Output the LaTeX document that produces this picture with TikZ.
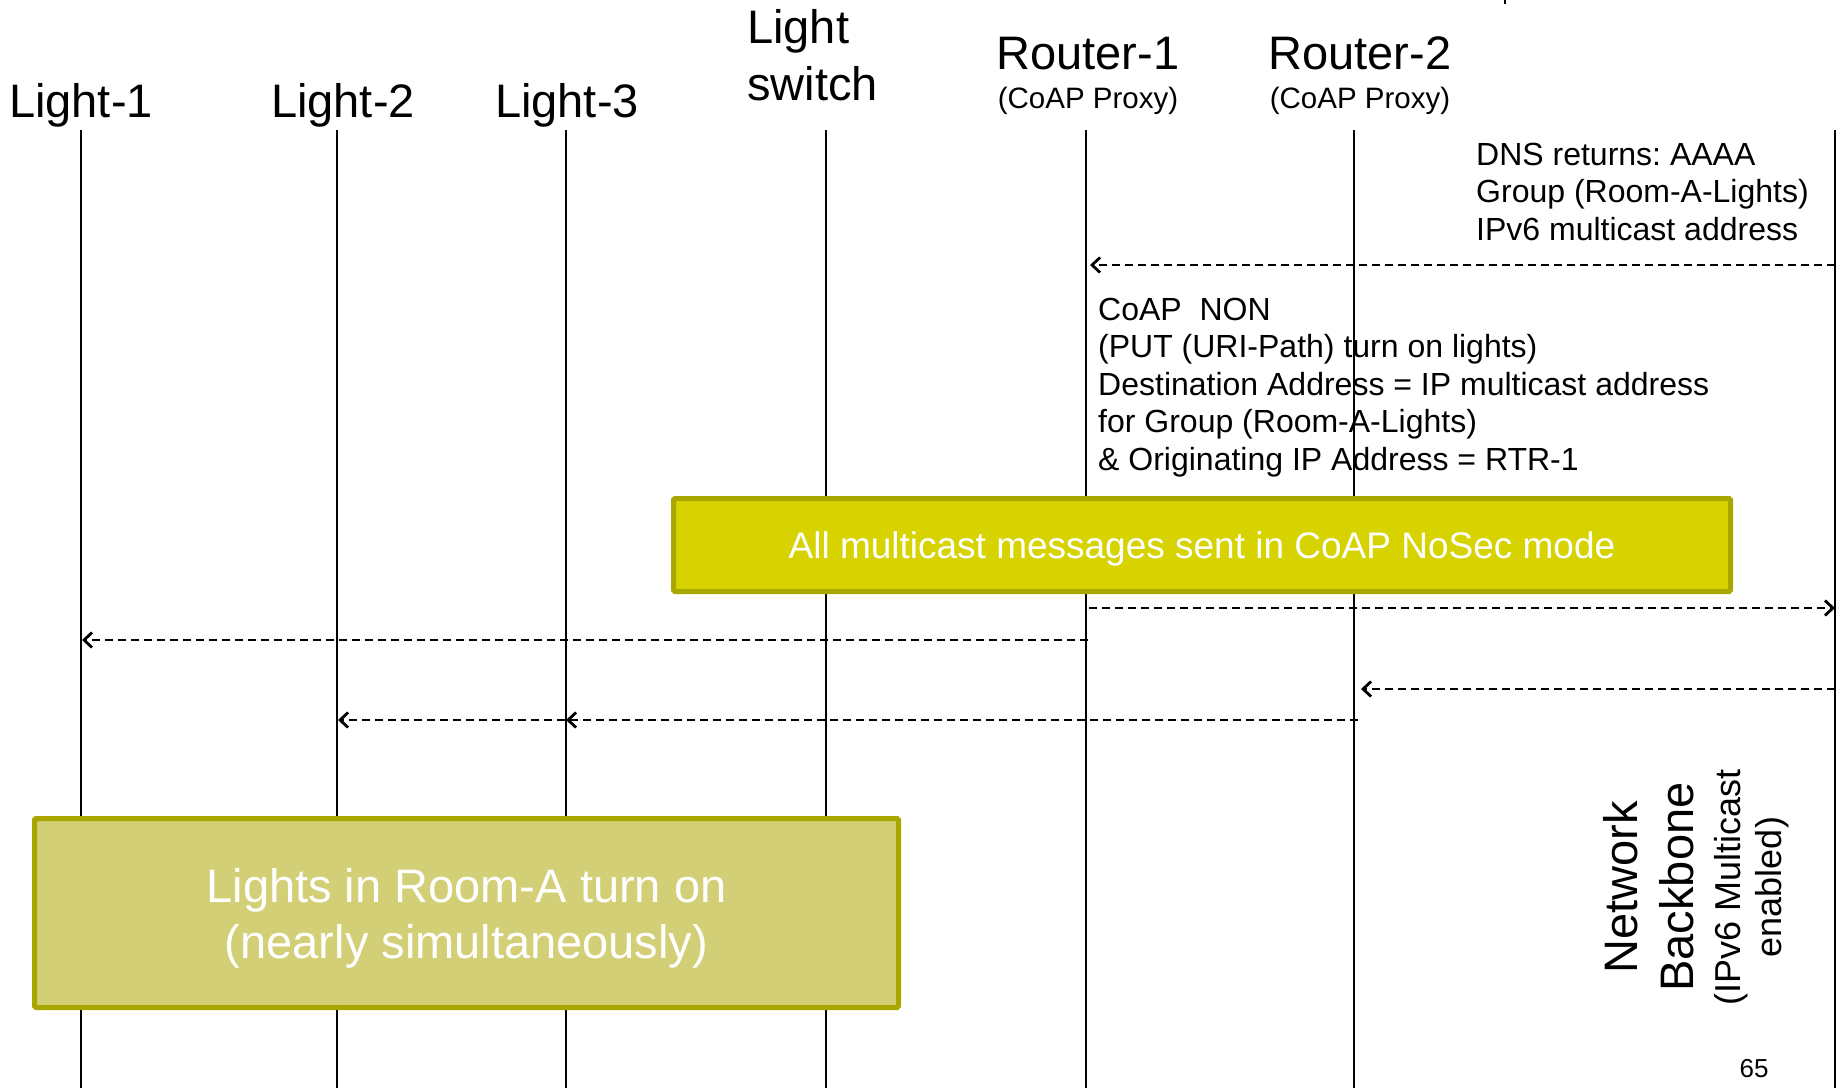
\documentclass[tikz,border=0pt]{standalone}
\usepackage{fontspec}
\setmainfont{Liberation Sans}
\usepackage{tikz}
\usetikzlibrary{positioning, arrows.meta}
\frenchspacing

\definecolor{boxyellow}{RGB}{215,211,0}
\definecolor{boxolive}{RGB}{211,207,118}
\definecolor{boxedge}{RGB}{170,166,0}

\begin{document}
\begin{tikzpicture}[x=1pt, y=-1pt,
		actor/.style={inner sep=0pt, font=\fontsize{47}{57}\selectfont},
		role/.style={inner sep=0pt, font=\fontsize{29.5}{35}\selectfont},
		note/.style={inner sep=0pt, align=left, anchor=base west, font=\fontsize{32}{37.5}\selectfont},
		life/.style={line width=2pt},
		msg/.style={line width=2.8pt, dash pattern=on 8pt off 5pt, -{Straight Barb[length=8pt,width=15pt]}},
		banner/.style={draw=boxedge, line width=5pt, text=white, inner sep=0pt, rounded corners=1.5pt}]
			\useasboundingbox (0,0) rectangle (1837,1088);
			
			% lifelines
			\foreach \who/\x in {l1/81, l2/337, l3/566, sw/826, r1/1086, r2/1354, bb/1835} {
				\coordinate (\who-top) at (\x,130);
				\coordinate (\who-bot) at (\x,1088);
				\draw[life] (\who-top) -- (\who-bot);
			}
			\draw[life] (1505,0) -- (1505,4);
			
			% headers
			\node[actor, anchor=base] (light1) at (81,117) {Light-1};
			\node[actor, anchor=base] (light2) at (343,117) {Light-2};
			\node[actor, anchor=base] (light3) at (567,117) {Light-3};
			\node[actor, anchor=base west, align=left] (switch) at (747,100) {Light\\switch};
			\node[actor, anchor=base] (router1) at (1088,69) {Router-1};
			\node[role, below=17pt of router1] (proxy1) {(CoAP Proxy)};
			\node[actor, anchor=base] (router2) at (1360,69) {Router-2};
			\node[role, below=17pt of router2] (proxy2) {(CoAP Proxy)};
			
			% notes
			\node[note] (dnsnote) at (1476,240) {DNS returns: AAAA\\Group (Room-A-Lights)\\IPv6 multicast address};
			\node[note] (coapnote) at (1098,470) {CoAP~~NON\\(PUT (URI-Path) turn on lights)\\Destination Address = IP multicast address\\for Group (Room-A-Lights)\\\& Originating IP Address = RTR-1};
			
			% message ends
			\coordinate (dns-bb) at (1835,265);
			\coordinate (dns-r1) at (1090,265);
			\coordinate (put-r1) at (1089,608);
			\coordinate (put-bb) at (1835,608);
			\coordinate (fwd-r1) at (1088,640);
			\coordinate (fwd-l1) at (82,640);
			\coordinate (mc-bb) at (1835,689);
			\coordinate (mc-r2) at (1361,689);
			\coordinate (out-r2) at (1358,720);
			\coordinate (out-l3) at (566,720);
			\coordinate (out-l2) at (338,720);
			
			\draw[msg] (dns-bb) -- (dns-r1);
			\draw[msg] (put-r1) -- (put-bb);
			\draw[msg] (fwd-r1) -- (fwd-l1);
			\draw[msg] (mc-bb) -- (mc-r2);
			\draw[msg] (out-r2) -- (out-l2);
			\draw[msg] (out-r2) -- (out-l3);
			
			% boxes
			\node[banner, fill=boxyellow, minimum width=1057pt, minimum height=93pt, text height=30pt, text depth=4pt, font=\fontsize{37}{44}\selectfont] (nosec) at (1202,545) {All multicast messages sent in CoAP NoSec mode};
			\node[banner, fill=boxolive, align=center, minimum width=864pt, minimum height=189pt, text depth=0pt, font=\fontsize{47}{56}\selectfont] (roomA) at (466.5,913) {Lights in Room-A turn on\\(nearly simultaneously)};
			
			% backbone label
			\node[rotate=90, anchor=base, align=center, inner sep=0pt, font=\fontsize{47}{56}\selectfont] (bbname) at (1693,887) {Network\\Backbone};
			\node[rotate=90, anchor=base, align=center, inner sep=0pt, font=\fontsize{36}{41}\selectfont] (bbnote) at (1781,887) {(IPv6 Multicast\\enabled)};
			
			\node[inner sep=0pt, anchor=base, font=\fontsize{26}{30}\selectfont] (pagenum) at (1754,1077) {65};
	\end{tikzpicture}
\end{document}
